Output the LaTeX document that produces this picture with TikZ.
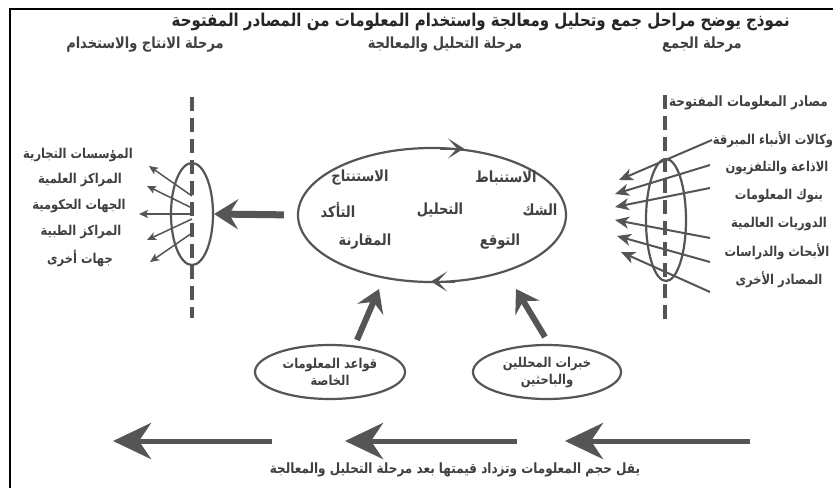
\documentclass[tikz,border=0pt]{standalone}
\usepackage{fontspec}
\usepackage{graphicx}
\usetikzlibrary{arrows.meta,shapes.geometric}
\TeXXeTstate=1
\newfontfamily\arabicfont[Script=Arabic]{DejaVu Sans Bold}
\newcommand\artxt[1]{\scalebox{1}[1.18]{\arabicfont\beginR #1\endR}}
\definecolor{lg}{HTML}{555555}
\definecolor{tg}{HTML}{404040}
\tikzset{
  lbl/.style={inner sep=1pt, text=tg, font=\fontsize{11.5}{14}\selectfont},
  inword/.style={inner sep=1pt, text=tg, font=\fontsize{13}{15}\selectfont},
  hdr/.style={inner sep=1pt, text=tg, font=\fontsize{13}{15}\selectfont},
  ttl/.style={inner sep=1pt, text=black!85, font=\fontsize{15}{17}\selectfont},
  ring/.style={draw=lg, ellipse, line width=2.2pt, inner sep=0pt},
  dashline/.style={draw=lg, line width=3.5pt, dash pattern=on 14pt off 7pt},
  bigarrow/.style={draw=lg, line width=7pt, -{Stealth[length=24pt,width=30pt,inset=9pt]}},
  uparrow/.style={draw=lg, line width=6pt, -{Stealth[length=22pt,width=28pt,inset=8pt]}},
  flowarrow/.style={draw=lg, line width=5pt, -{Stealth[length=38pt,width=36pt,inset=12pt]}},
  thinarrow/.style={draw=lg, line width=1.5pt, -{Stealth[length=9pt,width=8pt,inset=2pt]}},
  midarrow/.style={draw=lg, line width=2pt, -{Stealth[length=14pt,width=12pt,inset=4pt]}},
  chev/.style={draw=lg, line width=2pt, -{Stealth[length=16pt,width=20pt,inset=9pt]}},
}
\begin{document}
\begin{tikzpicture}[x=1pt,y=-1pt]
\useasboundingbox (0,0) rectangle (833,488);
\fill[white] (0,0) rectangle (833,488);
\draw[line width=1.8pt] (10,488) -- (10,9) -- (833,9);

% title and headers
\node[ttl, anchor=east] (title) at (791,22) {\artxt{نموذج يوضح مراحل جمع وتحليل ومعالجة واستخدام المعلومات من المصادر المفتوحة}};
\node[hdr] (h1) at (145,45) {\artxt{مرحلة الانتاج والاستخدام}};
\node[hdr] (h2) at (445,45) {\artxt{مرحلة التحليل والمعالجة}};
\node[hdr] (h3) at (702,45) {\artxt{مرحلة الجمع}};

% dashed lines
\coordinate (ld1) at (192,97);
\coordinate (ld2) at (192,318);
\coordinate (rd1) at (665,95);
\coordinate (rd2) at (665,322);
\draw[dashline] (ld1) -- (ld2);
\draw[dashline] (rd1) -- (rd2);

% ellipses
\node[ring, minimum width=42pt, minimum height=102pt] (lell) at (192,214) {};
\node[ring, minimum width=40pt, minimum height=122pt] (rell) at (666,220) {};
\node[ring, minimum width=268pt, minimum height=134pt] (cyc) at (432,215) {};
\node[ring, minimum width=150pt, minimum height=54pt, align=center, text=tg, font=\fontsize{11.5}{17}\selectfont] (kb) at (330,372) {\artxt{قواعد المعلومات}\\\artxt{الخاصة}};
\node[ring, minimum width=148pt, minimum height=54pt, align=center, text=tg, font=\fontsize{11.5}{17}\selectfont] (ex) at (547,372) {\artxt{خبرات المحللين}\\\artxt{والباحثين}};

% cycle chevrons
\coordinate (c1a) at (440,148.5);
\coordinate (c1b) at (464,148.5);
\coordinate (c2a) at (455,281.5);
\coordinate (c2b) at (431,281.5);
\path[chev] (c1a) -- (c1b);
\path[chev] (c2a) -- (c2b);

% inner words
\node[inword] (w1) at (506,178) {\artxt{الاستنباط}};
\node[inword] (w2) at (360,178) {\artxt{الاستنتاج}};
\node[inword] (w3) at (540,210) {\artxt{الشك}};
\node[inword] (w4) at (440,210) {\artxt{التحليل}};
\node[inword] (w5) at (338,210) {\artxt{التأكد}};
\node[inword] (w6) at (500,242) {\artxt{التوقع}};
\node[inword] (w7) at (365,242) {\artxt{المقارنة}};

% big arrow to left ellipse
\draw[bigarrow, shorten <=13pt] (cyc.west) -- (lell.east);

% up arrows
\coordinate (u1s) at (357,340);
\coordinate (u1t) at (379,289);
\coordinate (u2s) at (545,337);
\coordinate (u2t) at (516,289);
\draw[uparrow] (u1s) -- (u1t);
\draw[uparrow] (u2s) -- (u2t);

% left labels
\node[lbl] (l1) at (78,155) {\artxt{المؤسسات التجارية}};
\node[lbl] (l2) at (80,180) {\artxt{المراكز العلمية}};
\node[lbl] (l3) at (79,206) {\artxt{الجهات الحكومية}};
\node[lbl] (l4) at (81,232) {\artxt{المراكز الطبية}};
\node[lbl] (l5) at (80,258) {\artxt{جهات أخرى}};

% left small arrows
\coordinate (ls1) at (192,196);
\coordinate (ls2) at (192,208);
\coordinate (ls3) at (192,214);
\coordinate (ls4) at (192,219);
\coordinate (ls5) at (192,233);
\coordinate (lt1) at (149,166);
\coordinate (lt2) at (147,186);
\coordinate (lt3) at (139,214);
\coordinate (lt4) at (147,240);
\coordinate (lt5) at (150,262);
\foreach \i in {1,...,5} \draw[thinarrow] (ls\i) -- (lt\i);

% right header and labels
\node[lbl, anchor=west, font=\fontsize{12}{14}\selectfont] (src) at (668,103) {\artxt{مصادر المعلومات المفتوحة}};
\node[lbl] (r1) at (773,140) {\artxt{وكالات الأنباء المبرقة}};
\node[lbl] (r2) at (777,168) {\artxt{الاذاعة والتلفزيون}};
\node[lbl] (r3) at (779,196) {\artxt{بنوك المعلومات}};
\node[lbl] (r4) at (779,224) {\artxt{الدوريات العالمية}};
\node[lbl] (r5) at (777,252) {\artxt{الأبحاث والدراسات}};
\node[lbl] (r6) at (779,280) {\artxt{المصادر الأخرى}};

% right arrows
\coordinate (rs1) at (712,140);
\coordinate (rs2) at (710,165);
\coordinate (rs3) at (710,188);
\coordinate (rs4) at (710,238);
\coordinate (rs5) at (710,262);
\coordinate (rs6) at (710,292);
\coordinate (rt1) at (619,180);
\coordinate (rt2) at (615,194);
\coordinate (rt3) at (615,207);
\coordinate (rt4) at (615,220);
\coordinate (rt5) at (617,236);
\coordinate (rt6) at (621,252);
\foreach \i in {1,...,6} \draw[midarrow] (rs\i) -- (rt\i);

% bottom flow arrows
\coordinate (f1s) at (272,441);
\coordinate (f1t) at (113,441);
\coordinate (f2s) at (517,441);
\coordinate (f2t) at (345,441);
\coordinate (f3s) at (750,441);
\coordinate (f3t) at (565,441);
\draw[flowarrow] (f1s) -- (f1t);
\draw[flowarrow] (f2s) -- (f2t);
\draw[flowarrow] (f3s) -- (f3t);
\node[lbl, font=\fontsize{12}{14}\selectfont] (bottom) at (455,470) {\artxt{يقل حجم المعلومات وتزداد قيمتها بعد مرحلة التحليل والمعالجة}};
\end{tikzpicture}
\end{document}
